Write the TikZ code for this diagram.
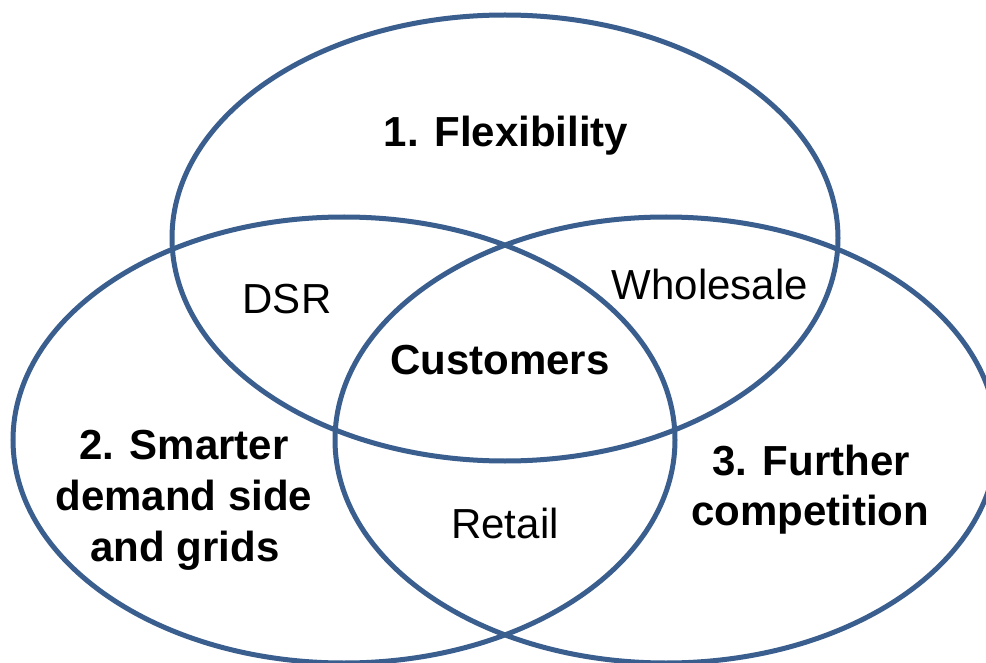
\documentclass[tikz,border=0pt]{standalone}
\usepackage{fontspec}
\setmainfont{Liberation Sans}
\definecolor{vennblue}{RGB}{58,95,142}
\begin{document}
\begin{tikzpicture}[x=1pt,y=-1pt,
  ring/.style={draw=vennblue,line width=5pt},
  bold lbl/.style={anchor=base,inner sep=0pt,font=\fontsize{42}{50}\selectfont\bfseries},
  plain lbl/.style={anchor=base,inner sep=0pt,font=\fontsize{42}{50}\selectfont}]
\useasboundingbox (0,0) rectangle (986,663);
\fill[white] (0,0) rectangle (986,663);
\draw[ring] (505,238) ellipse [x radius=333, y radius=223];
\draw[ring] (344,440) ellipse [x radius=331, y radius=223];
\draw[ring] (666,440) ellipse [x radius=331, y radius=223];
\node[bold lbl] (flex) at (506,147) {1. Flexibility};
\node[bold lbl] (cust) at (500,374) {Customers};
\node[plain lbl] (dsr) at (287,313) {DSR};
\node[plain lbl] (whole) at (710,300) {Wholesale};
\node[plain lbl] (retail) at (505,538) {Retail};
\node[bold lbl] (sm1) at (184,459) {2. Smarter};
\node[bold lbl] (sm2) at (184,510) {demand side};
\node[bold lbl] (sm3) at (185,561) {and grids};
\node[bold lbl] (fc1) at (811,475) {3. Further};
\node[bold lbl] (fc2) at (810,525) {competition};
\end{tikzpicture}
\end{document}
